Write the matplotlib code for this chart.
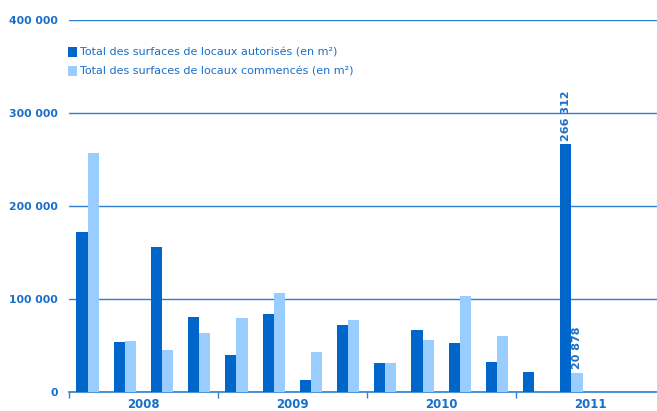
import matplotlib
matplotlib.use("Agg")
from matplotlib import pyplot as plt
import numpy as np

years = ["2008", "2009", "2010", "2011"]
autorises = [172000, 54000, 156000, 80500, 40000, 84000, 13000, 72000,
             31500, 66500, 53000, 32500, 21500, 266312]
commences = [257000, 55000, 45500, 63500, 79500, 106500, 43000, 77500,
             31500, 56000, 103500, 60500, 0, 20878]
labelled = {13: (266312, 20878)}

dark = '#0066cc'
light = '#99ccff'
txt = '#1a6fc8'

fig = plt.figure(figsize=(6.57, 4.11), dpi=100)
ax = fig.add_axes([69 / 657, 1 - 392 / 411, 1 - 69 / 657, 372 / 411])

x = np.arange(len(autorises))
w = 0.3
ax.bar(x - w / 2, autorises, w, color=dark, zorder=3,
       label="Total des surfaces de locaux autorisés (en m²)")
ax.bar(x + w / 2, commences, w, color=light, zorder=3,
       label="Total des surfaces de locaux commencés (en m²)")

for i, (a, c) in labelled.items():
    ax.text(i - w / 2, a + 4000, "{:,}".format(a).replace(",", " "), rotation=90,
            ha='center', va='bottom', color=txt, fontsize=8, fontweight='bold')
    ax.text(i + w / 2, c + 4000, "{:,}".format(c).replace(",", " "), rotation=90,
            ha='center', va='bottom', color=txt, fontsize=8, fontweight='bold')

ax.set_ylim(0, 400000)
ax.set_xlim(-0.5, 15.3)
yt = [0, 100000, 200000, 300000, 400000]
ax.set_yticks(yt)
ax.set_yticklabels(["{:,}".format(v).replace(",", " ") for v in yt],
                   color=txt, fontweight='bold', fontsize=7.8)
ax.tick_params(axis='y', length=0, pad=8)
ax.grid(axis='y', color='#2f7fd2', linewidth=1, zorder=0)

ax.set_xticks([1.5, 5.5, 9.5, 13.5])
ax.set_xticklabels(years, color=txt, fontweight='bold', fontsize=8.5)
ax.set_xticks([-0.5, 3.5, 7.5, 11.5], minor=True)
ax.tick_params(axis='x', which='major', length=0, pad=4.5)
ax.tick_params(axis='x', which='minor', length=4, color='#2f7fd2', width=1)

for s in ['top', 'right', 'left']:
    ax.spines[s].set_visible(False)
ax.spines['bottom'].set_color('#2f7fd2')
ax.spines['bottom'].set_linewidth(1.2)

leg = ax.legend(loc='upper left', bbox_to_anchor=(-0.018, 0.955), frameon=False,
                fontsize=8, handlelength=0.75, handleheight=1.0, handletextpad=0.25,
                labelspacing=0.75)
for t in leg.get_texts():
    t.set_color(txt)

fig.savefig("out.png", dpi=100)
